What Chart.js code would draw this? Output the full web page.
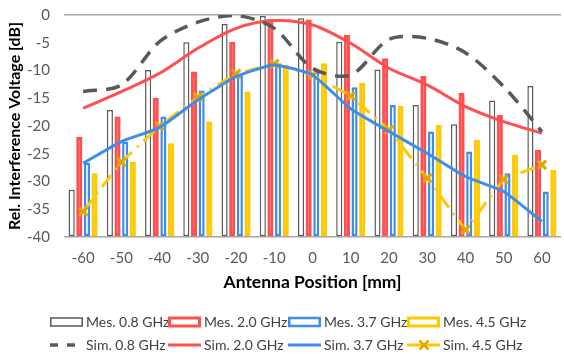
<!DOCTYPE html>
<html>
<head>
<meta charset="utf-8">
<script src="https://cdn.jsdelivr.net/npm/chart.js@4.4.1/dist/chart.umd.min.js"></script>
<style>
  html, body { margin: 0; padding: 0; background: #fff; overflow: hidden; }
  #wrap { width: 570px; height: 354px; }
</style>
</head>
<body>
<div id="wrap"><canvas id="chart" width="570" height="354"></canvas></div>
<script>
const categories = ["-60", "-50", "-40", "-30", "-20", "-10", "0", "10", "20", "30", "40", "50", "60"];

// measured (bars)
const mes08 = [-31.5, -17.1, -9.9, -4.9, -1.6, -0.2, -0.6, -4.8, -9.8, -16.2, -19.7, -15.4, -12.8];
const mes20 = [-22.0, -18.3, -14.9, -10.2, -4.8, -0.7, -0.8, -3.6, -7.8, -11.0, -14.0, -18.0, -24.3];
const mes37 = [-26.6, -22.8, -18.3, -13.6, -11.0, -8.7, -10.2, -13.0, -16.2, -21.0, -24.6, -28.5, -31.8];
const mes45 = [-28.5, -26.5, -23.1, -19.2, -13.8, -9.0, -8.7, -12.2, -16.4, -19.8, -22.5, -25.2, -27.9];

// simulated (lines)
const sim08 = [-13.8, -12.6, -4.8, -1.3, -0.1, -2.4, -9.6, -10.8, -4.4, -4.2, -6.8, -12.9, -21.0];
const sim20 = [-16.8, -13.8, -10.5, -6.0, -2.4, -1.0, -1.8, -5.1, -9.6, -12.6, -16.5, -19.2, -21.3];
const sim37 = [-26.7, -22.8, -20.3, -15.3, -11.1, -9.0, -10.8, -16.9, -21.0, -24.9, -29.1, -31.8, -37.2];
const sim45 = [-35.4, -26.5, -20.0, -14.8, -10.6, -8.8, -10.8, -14.6, -20.7, -29.4, -38.7, -29.6, -27.0];

const yMin = -40;
const yMax = 0;

const GREY = "#595959";
const RED = "#FF4F4F";
const BLUE = "#3D8EEA";
const GOLD = "#FFC800";
const MARK = "#E0A800";
const FONT = "Lato, 'Open Sans', sans-serif";

function barSet(label, data, color, bw) {
  return {
    type: "bar", label, data, base: yMin,
    backgroundColor: "#fff", borderColor: color, borderWidth: bw,
    borderSkipped: false, order: 2,
    categoryPercentage: 0.8, barPercentage: 0.8
  };
}

function lineSet(label, data, color, extra) {
  return Object.assign({
    type: "line", label, data, borderColor: color, backgroundColor: color,
    borderWidth: 3, pointRadius: 0, tension: 0.25, fill: false, order: 1
  }, extra || {});
}

// draws the two-row legend under the axis title
const legendPlugin = {
  id: "twoRowLegend",
  afterDraw(chart) {
    const ctx = chart.ctx;
    const cols = [50, 168, 288, 407];
    const rows = [322, 345];
    const ds = chart.data.datasets;
    ctx.save();
    ctx.font = "14px " + FONT;
    ctx.textBaseline = "middle";
    ctx.fillStyle = "#404040";
    for (let i = 0; i < 8; i++) {
      const d = ds[i];
      const row = i < 4 ? 0 : 1;
      const x = cols[i % 4];
      const y = rows[row];
      ctx.save();
      ctx.strokeStyle = d.borderColor;
      ctx.lineWidth = d.borderWidth;
      if (row === 0) {
        ctx.fillStyle = "#fff";
        const h = 8;
        ctx.fillRect(x, y - h / 2, 33, h);
        ctx.strokeRect(x + d.borderWidth / 2, y - h / 2, 33 - d.borderWidth, h);
      } else {
        ctx.setLineDash(d.borderDash && i === 4 ? [8, 9] : []);
        ctx.beginPath();
        ctx.moveTo(x, y);
        ctx.lineTo(x + 33, y);
        ctx.stroke();
        if (d.pointStyle === "crossRot") {
          ctx.setLineDash([]);
          ctx.strokeStyle = MARK;
          ctx.lineWidth = 2.5;
          const r = 4.5, cx = x + 17;
          ctx.beginPath();
          ctx.moveTo(cx - r, y - r); ctx.lineTo(cx + r, y + r);
          ctx.moveTo(cx + r, y - r); ctx.lineTo(cx - r, y + r);
          ctx.stroke();
        }
      }
      ctx.restore();
      ctx.fillText(d.label, x + 36, y);
    }
    ctx.restore();
  }
};

new Chart(document.getElementById("chart"), {
  data: {
    labels: categories,
    datasets: [
      barSet("Mes. 0.8 GHz", mes08, GREY, 1.5),
      barSet("Mes. 2.0 GHz", mes20, RED, 3),
      barSet("Mes. 3.7 GHz", mes37, BLUE, 2.5),
      barSet("Mes. 4.5 GHz", mes45, GOLD, 3),
      lineSet("Sim. 0.8 GHz", sim08, GREY, { borderDash: [14, 9], borderWidth: 3.5, tension: 0.3 }),
      lineSet("Sim. 2.0 GHz", sim20, RED, { tension: 0.3 }),
      lineSet("Sim. 3.7 GHz", sim37, BLUE, { tension: 0.15 }),
      lineSet("Sim. 4.5 GHz", sim45, GOLD, {
        borderDash: [15, 7, 2, 7], tension: 0, pointStyle: "crossRot",
        pointRadius: 6, pointBorderWidth: 3, pointBorderColor: MARK, pointBackgroundColor: MARK
      })
    ]
  },
  options: {
    responsive: false,
    animation: false,
    devicePixelRatio: 1,
    layout: { padding: { top: 15, left: 0, right: 0, bottom: 59 } },
    plugins: { legend: { display: false }, tooltip: { enabled: false } },
    scales: {
      x: {
        offset: true,
        grid: { display: false },
        border: { display: false },
        ticks: { color: GREY, font: { size: 15, family: FONT }, padding: 4 },
        title: {
          display: true, text: "Antenna Position [mm]", color: "#000",
          font: { size: 17.5, weight: "bold", family: FONT }, padding: { top: 2, bottom: 2 }
        },
        afterFit(s) { s.height = 58; }
      },
      y: {
        min: yMin, max: yMax,
        grid: {
          drawTicks: true,
          tickLength: 14,
          tickColor: "rgba(0,0,0,0)",
          lineWidth: 1.5,
          color: (c) => (c.tick && (c.tick.value === yMax || c.tick.value === yMin)) ? "#a6a6a6" : "rgba(0,0,0,0)"
        },
        border: { display: false },
        ticks: { stepSize: 5, color: GREY, font: { size: 15, family: FONT }, padding: 0 },
        title: {
          display: true, text: "Rel. Interference Voltage [dB]", color: "#000",
          font: { size: 16, weight: "bold", family: FONT }, padding: { top: 5, bottom: 0 }
        },
        afterFit(s) { s.width = 64; }
      }
    }
  },
  plugins: [legendPlugin]
});
</script>
</body>
</html>
